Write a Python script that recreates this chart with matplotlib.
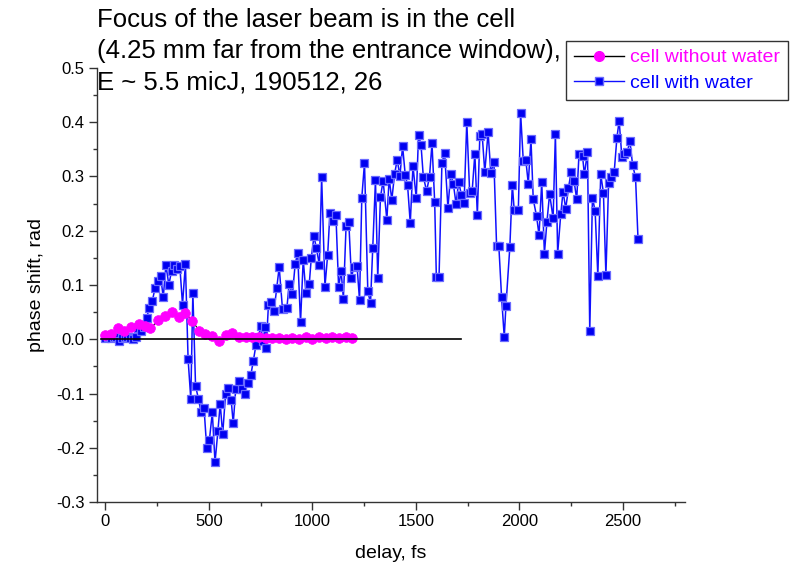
import matplotlib
matplotlib.use("Agg")
import matplotlib.pyplot as plt
from matplotlib.ticker import MultipleLocator
from matplotlib.lines import Line2D

plt.rcParams['font.family'] = ['Liberation Sans', 'DejaVu Sans']

# cell with water: delay (fs) and phase shift (rad)
delay_water = [0, 13, 27, 40, 53, 67, 80, 93, 107, 120, 133, 147, 160, 173, 186, 200, 213, 227, 240, 253,
               267, 280, 293, 307, 320, 333, 347, 360, 373, 387, 400, 413, 423, 436, 450, 463, 477, 490, 503, 517,
               530, 544, 555, 567, 581, 594, 608, 618, 630, 646, 660, 673, 687, 703, 715, 728, 741, 750, 762, 772,
               777, 788, 800, 815, 828, 840, 856, 877, 888, 904, 917, 929, 943, 956, 969, 985, 995, 1008, 1019, 1034,
               1045, 1061, 1074, 1085, 1098, 1114, 1127, 1139, 1150, 1163, 1176, 1189, 1200, 1216, 1228, 1239, 1252,
               1268, 1281, 1292, 1305, 1316, 1329, 1342, 1360, 1371, 1384, 1397, 1410, 1423, 1436, 1449, 1460, 1473,
               1486, 1502, 1513, 1525, 1536, 1552, 1566, 1578, 1591, 1599, 1612, 1626, 1639, 1655, 1668, 1681, 1694,
               1707, 1720, 1733, 1746, 1760, 1772, 1785, 1797, 1809, 1820, 1833, 1849, 1862, 1877, 1890, 1901, 1914,
               1927, 1935, 1954, 1966, 1975, 1995, 2006, 2019, 2031, 2043, 2056, 2067, 2083, 2095, 2108, 2121, 2133,
               2146, 2163, 2174, 2185, 2200, 2211, 2224, 2237, 2250, 2264, 2277, 2288, 2305, 2314, 2329, 2340, 2353,
               2366, 2379, 2393, 2406, 2418, 2431, 2443, 2458, 2471, 2482, 2495, 2506, 2521, 2534, 2547, 2561, 2573]
phase_water = [0.003, 0.004, 0.002, 0.005, 0.004, -0.004, 0.003, 0.005, 0.004, 0.003, 0.001, 0.005, 0.021, 0.015,
               0.022, 0.040, 0.058, 0.070, 0.094, 0.107, 0.117, 0.077, 0.137, 0.100, 0.126, 0.137, 0.129, 0.135,
               0.064, 0.139, -0.037, -0.110, 0.086, -0.086, -0.110, -0.135, -0.127, -0.201, -0.185, -0.135, -0.227,
               -0.169, -0.119, -0.175, -0.101, -0.090, -0.112, -0.155, -0.092, -0.077, -0.092, -0.100, -0.080,
               -0.066, -0.040, -0.010, 0.005, 0.024, -0.003, 0.023, -0.017, 0.063, 0.069, 0.052, 0.095, 0.133,
               0.055, 0.057, 0.102, 0.083, 0.138, 0.159, 0.031, 0.147, 0.086, 0.101, 0.150, 0.190, 0.169, 0.137,
               0.299, 0.097, 0.155, 0.233, 0.218, 0.229, 0.096, 0.126, 0.075, 0.209, 0.217, 0.112, 0.134, 0.135,
               0.072, 0.261, 0.325, 0.089, 0.066, 0.169, 0.293, 0.112, 0.262, 0.292, 0.220, 0.296, 0.257, 0.304,
               0.331, 0.301, 0.356, 0.302, 0.284, 0.214, 0.320, 0.260, 0.377, 0.358, 0.300, 0.273, 0.300, 0.361,
               0.253, 0.115, 0.115, 0.325, 0.343, 0.242, 0.304, 0.287, 0.250, 0.290, 0.266, 0.251, 0.401, 0.270,
               0.273, 0.342, 0.229, 0.374, 0.379, 0.308, 0.382, 0.307, 0.327, 0.172, 0.171, 0.078, 0.004, 0.061,
               0.170, 0.285, 0.238, 0.238, 0.417, 0.328, 0.331, 0.287, 0.369, 0.258, 0.227, 0.192, 0.290, 0.158,
               0.216, 0.268, 0.223, 0.378, 0.158, 0.231, 0.272, 0.241, 0.278, 0.309, 0.292, 0.258, 0.341, 0.338,
               0.304, 0.345, 0.015, 0.261, 0.236, 0.117, 0.304, 0.270, 0.118, 0.288, 0.299, 0.308, 0.371, 0.403,
               0.336, 0.341, 0.345, 0.365, 0.321, 0.299, 0.185]

# cell without water
delay_dry = [0, 30, 61, 92, 126, 162, 190, 218, 255, 290, 323, 355, 384, 420, 455, 484, 517, 549, 581, 614,
             646, 678, 710, 742, 775, 807, 839, 871, 903, 935, 968, 1000, 1032, 1064, 1097, 1129, 1161, 1190]
phase_dry = [0.008, 0.010, 0.020, 0.015, 0.023, 0.028, 0.025, 0.020, 0.035, 0.043, 0.051, 0.041, 0.049, 0.034,
             0.015, 0.010, 0.006, -0.003, 0.008, 0.012, 0.004, 0.004, 0.004, 0.005, 0.003, 0.002, 0.003, 0.000,
             0.003, 0.001, 0.004, 0.001, 0.005, 0.002, 0.004, 0.002, 0.005, 0.002]

# zero reference
zero_x = [-20, 1720]
zero_y = [0.0, 0.0]

title_lines = ["Focus of the laser beam is in the cell",
               "(4.25 mm far from the entrance window),",
               "E ~ 5.5 micJ, 190512, 26"]

fig = plt.figure(figsize=(7.96, 5.66), dpi=100)
ax = fig.add_axes([97 / 796, 1 - 502 / 566, 588 / 796, 434 / 566])

blue = '#1010ff'
ax.plot(delay_water, phase_water, '-', color=blue, lw=1.1, marker='s', ms=6.4,
        mfc='#0000f0', mec='#6a6aff', mew=0.9, zorder=2)
ax.plot(delay_dry, phase_dry, '-', color='black', lw=0.8, marker='o', ms=7.0,
        mfc='#ff00ff', mec='#ff00ff', mew=0.5, zorder=3)
ax.plot(zero_x, zero_y, '-', color='black', lw=1.2, zorder=4)

ax.set_xlim(-40, 2800)
ax.set_ylim(-0.3, 0.5)
ax.xaxis.set_major_locator(MultipleLocator(500))
ax.xaxis.set_minor_locator(MultipleLocator(250))
ax.yaxis.set_major_locator(MultipleLocator(0.1))
ax.yaxis.set_minor_locator(MultipleLocator(0.05))
ax.yaxis.set_major_formatter(plt.FuncFormatter(lambda v, p: f"{v:.1f}"))

for s in ('top', 'right'):
    ax.spines[s].set_visible(False)
for s in ('left', 'bottom'):
    ax.spines[s].set_color('#333333')
    ax.spines[s].set_linewidth(1.0)

ax.tick_params(which='major', direction='out', length=6, width=1, color='#333333',
               labelsize=12, pad=3)
ax.tick_params(which='minor', direction='out', length=3, width=1, color='#333333')

ax.set_xlabel('delay, fs', fontsize=14, labelpad=11)
ax.set_ylabel('phase shift, rad', fontsize=14, labelpad=8)

fig.text(97 / 796, 1 - 8 / 566, "\n".join(title_lines), fontsize=18.5, va='top',
         ha='left', linespacing=1.37)

h1 = Line2D([], [], color='black', lw=1, marker='o', ms=7, mfc='#ff00ff', mec='#ff00ff')
h2 = Line2D([], [], color=blue, lw=1, marker='s', ms=6, mfc='#0000f0', mec='#6a6aff')
leg = fig.legend([h1, h2], ['cell without water', 'cell with water'],
                 loc='upper left', bbox_to_anchor=(566 / 796, 1 - 41 / 566),
                 fontsize=14, frameon=True, fancybox=False, edgecolor='black',
                 borderpad=0.4, handlelength=2.6, handletextpad=0.3,
                 labelspacing=0.4, borderaxespad=0)
leg.get_frame().set_linewidth(1.0)
leg.get_texts()[0].set_color('#ff00ff')
leg.get_texts()[1].set_color('#0000ff')

fig.savefig('out.png', dpi=100)
